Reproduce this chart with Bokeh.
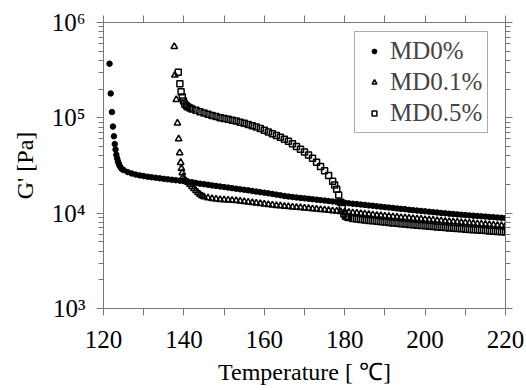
from bokeh.plotting import figure
from bokeh.models import (FixedTicker, LinearAxis, LogAxis, Legend, LegendItem)
from bokeh.embed import file_html
from bokeh.resources import INLINE

# ---- data ----
md0_T = [121.5, 121.8, 122.1, 122.35, 122.6, 122.8, 123.0, 123.2, 123.4, 123.6, 123.8, 124.0, 124.3, 124.6,
         125, 126, 127, 128, 129, 130, 131, 132, 133, 134, 135, 136, 137, 138, 139, 140,
         141, 142, 143, 144, 145, 146, 147, 148, 149, 150, 151, 152, 153, 154, 155, 156, 157, 158, 159, 160,
         161, 162, 163, 164, 165, 166, 167, 168, 169, 170, 171, 172, 173, 174, 175, 176, 177, 178, 179, 180,
         181, 182, 183, 184, 185, 186, 187, 188, 189, 190, 191, 192, 193, 194, 195, 196, 197, 198, 199, 200,
         201, 202, 203, 204, 205, 206, 207, 208, 209, 210, 211, 212, 213, 214, 215, 216, 217, 218, 219, 220]
md0_G = [370000, 180000, 115000, 81000, 64000, 53000, 46500, 41000, 37500, 35000, 33000, 31500, 30000, 29000,
         28300, 27000, 26100, 25400, 24900, 24500, 24100, 23800, 23500, 23200, 22900, 22650, 22400, 22150, 21900, 21700,
         21400, 21100, 20750, 20400, 20150, 19850, 19550, 19300, 19050, 18800, 18550, 18300, 18050, 17800, 17600,
         17350, 17100, 16850, 16600, 16400,
         16150, 15900, 15650, 15400, 15150, 14950, 14750, 14600, 14450, 14300, 14150, 14000, 13850, 13700, 13550,
         13400, 13250, 13100, 12950, 12850,
         12700, 12550, 12450, 12300, 12200, 12050, 11950, 11800, 11700, 11550, 11450, 11350, 11200, 11100, 11000,
         10850, 10750, 10650, 10550, 10450,
         10350, 10250, 10150, 10050, 9950, 9870, 9790, 9710, 9630, 9550, 9480, 9410, 9340, 9270, 9200,
         9130, 9070, 9000, 8940, 8870]

md01_T = [137.6, 137.75, 138.1, 138.4, 138.7, 138.95, 139.2, 139.4, 139.6, 139.8, 140.0, 140.3, 140.6,
          141.0, 141.5, 142.0, 142.5, 143, 143.5, 144, 144.5, 145, 146, 147, 148, 149, 150,
          151, 152, 153, 154, 155, 156, 157, 158, 159, 160, 161, 162, 163, 164, 165, 166, 167, 168, 169, 170,
          171, 172, 173, 174, 175, 176, 177, 178, 179, 180, 181, 182, 183, 184, 185, 186, 187, 188, 189, 190,
          191, 192, 193, 194, 195, 196, 197, 198, 199, 200, 201, 202, 203, 204, 205, 206, 207, 208, 209, 210,
          211, 212, 213, 214, 215, 216, 217, 218, 219, 220]
md01_G = [560000, 280000, 155000, 88000, 60000, 43000, 34000, 29500, 26500, 24000, 22700, 22000, 21500,
          21000, 20000, 19000, 18100, 17200, 16400, 15700, 15200, 14850, 14450, 14200, 14050, 13900, 13800,
          13700, 13600, 13500, 13350, 13200, 13050, 12900, 12750, 12600, 12450, 12300, 12150, 12000, 11900,
          11800, 11700, 11600, 11500, 11400, 11300,
          11200, 11100, 11000, 10900, 10800, 10700, 10600, 10500, 10400, 10300, 10200, 10100, 10000, 9900,
          9800, 9700, 9600, 9500, 9400, 9320,
          9240, 9160, 9080, 9000, 8920, 8850, 8780, 8710, 8640, 8570, 8500, 8430, 8360, 8290, 8220, 8160,
          8100, 8040, 7980, 7920,
          7860, 7800, 7740, 7680, 7620, 7560, 7500, 7450, 7400, 7350]

md05_T = [138.6, 139.0, 139.3, 139.6, 139.9, 140.2, 140.6, 141.0, 141.5, 142, 143, 144, 145, 146, 147, 148,
          149, 150, 151, 152, 153, 154, 155, 156, 157, 158, 159, 160, 161, 162, 163, 164, 165, 166, 167, 168,
          169, 170, 171, 172, 173, 174, 175, 176, 177, 177.5, 178, 178.5, 179, 179.4, 179.8, 180.2, 180.6,
          181, 182, 183, 184, 185, 186, 187, 188, 189, 190, 191, 192, 193, 194, 195, 196, 197, 198, 199, 200,
          201, 202, 203, 204, 205, 206, 207, 208, 209, 210, 211, 212, 213, 214, 215, 216, 217, 218, 219, 220]
md05_G = [300000, 228000, 188000, 165000, 150000, 140000, 134000, 130000, 127000, 124000, 120000, 116000,
          112500, 109000, 105500, 103000, 100500, 98500, 96500, 94500, 92500, 90000, 87500, 85000, 82500,
          80000, 77500, 74100, 71100, 68200, 65300, 62400, 59600, 56900, 53500, 50100, 46800, 43700, 40700,
          37600, 34300, 30900, 27900, 24800, 21600, 19700, 17800, 15500, 13000, 11200, 9800, 9300, 9100,
          9000, 8800, 8670, 8580, 8490, 8400, 8310, 8220, 8140, 8060, 7980, 7900, 7830, 7760, 7690, 7620,
          7550, 7480, 7420, 7360,
          7300, 7240, 7180, 7120, 7060, 7000, 6950, 6900, 6850, 6800, 6750, 6700, 6650, 6600, 6560, 6520,
          6480, 6440, 6400, 6360]

x_major = [120, 140, 160, 180, 200, 220]
x_minor = [130, 150, 170, 190, 210]
y_major = [1e3, 1e4, 1e5, 1e6]
y_minor = [m * d for d in (1e3, 1e4, 1e5) for m in range(2, 10)]
y_labels = {1000: "10³", 10000: "10⁴", 100000: "10⁵", 1000000: "10⁶"}
series_names = ["MD0%", "MD0.1%", "MD0.5%"]

FONT = "Liberation Serif"
AX = "#777777"

p = figure(frame_width=402, frame_height=286, x_range=(120, 220), y_range=(1e3, 1e6),
           y_axis_type="log", output_backend="svg", toolbar_location=None,
           min_border_left=103, min_border_top=22, min_border_right=19, min_border_bottom=80)
p.outline_line_color = None
p.xgrid.visible = False
p.ygrid.visible = False
p.background_fill_color = "white"
p.border_fill_color = "white"

r0 = p.scatter(md0_T, md0_G, marker="circle", size=5.5, fill_color="black", line_color="black")
r1 = p.scatter(md01_T, md01_G, marker="triangle", size=6.5, fill_color=None, line_color="black", line_width=1.5)
r2 = p.scatter(md05_T, md05_G, marker="square", size=6, fill_color=None, line_color="black", line_width=1.5)


def style(ax, kind="x"):
    ax.axis_line_color = AX
    ax.major_tick_line_color = AX
    ax.minor_tick_line_color = AX
    ax.major_tick_in = 0
    ax.minor_tick_in = 0
    ax.major_tick_out = 7
    ax.minor_tick_out = 7 if kind == "x" else 5
    ax.major_label_text_font = FONT
    ax.major_label_text_font_size = "25px"
    ax.major_label_text_color = "black"
    ax.axis_label_text_font = FONT
    ax.axis_label_text_font_size = "24px"
    ax.axis_label_text_font_style = "normal"
    ax.axis_label_text_color = "black"


xt = FixedTicker(ticks=x_major, minor_ticks=x_minor)
yt = FixedTicker(ticks=y_major, minor_ticks=y_minor)

xb = p.xaxis[0]
xb.ticker = xt
style(xb, kind="x")
xb.axis_label = "Temperature [ ℃]"
xb.major_label_standoff = 15
xb.axis_label_standoff = 8

yl = p.yaxis[0]
yl.ticker = yt
style(yl, kind="y")
yl.major_label_overrides = y_labels
yl.axis_label = "G' [Pa]"
yl.major_label_standoff = 11
yl.axis_label_standoff = 11

xa = LinearAxis(ticker=FixedTicker(ticks=x_major, minor_ticks=x_minor))
style(xa, kind="x")
xa.major_label_overrides = {v: "" for v in x_major}
p.add_layout(xa, "above")

ya = LogAxis(ticker=FixedTicker(ticks=y_major, minor_ticks=y_minor))
style(ya, kind="y")
ya.major_label_overrides = {v: "" for v in y_major}
p.add_layout(ya, "right")

legend = Legend(items=[LegendItem(label=series_names[0], renderers=[r0]),
                       LegendItem(label=series_names[1], renderers=[r1]),
                       LegendItem(label=series_names[2], renderers=[r2])],
                location=(251, 175))
legend.label_text_font = FONT
legend.label_text_font_size = "25px"
legend.label_height = 24
legend.glyph_height = 12
legend.glyph_width = 28
legend.spacing = 3
legend.padding = 5
legend.label_standoff = 2
legend.border_line_color = "#555555"
legend.border_line_width = 1
legend.background_fill_alpha = 1
legend.margin = 0
p.add_layout(legend, "center")

open("out.html", "w").write(file_html(p, INLINE))
